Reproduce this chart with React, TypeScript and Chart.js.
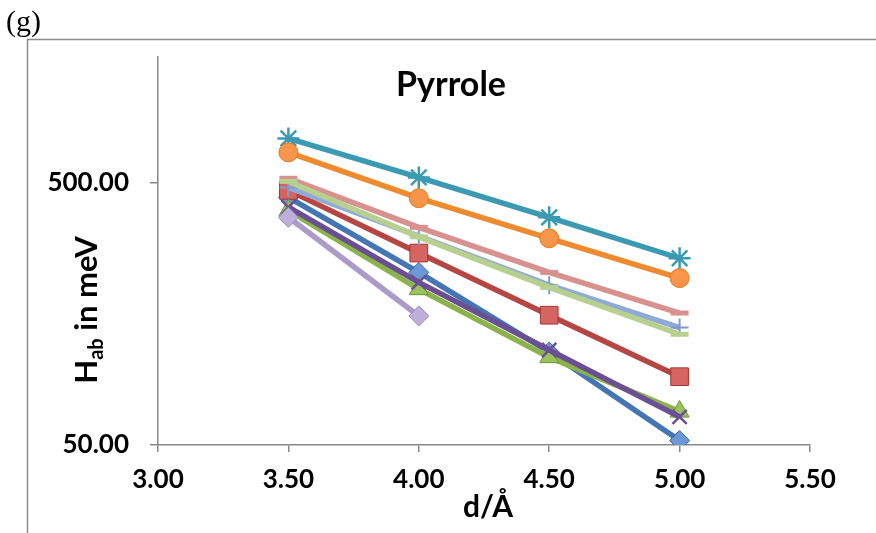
import React, { useEffect, useRef } from "react";
import { Chart, registerables } from "chart.js";

Chart.register(...registerables);

// ---- data (meV vs. distance in Å) ----
const distances = [3.5, 4.0, 4.5, 5.0];
const xTickValues = [3.0, 3.5, 4.0, 4.5, 5.0, 5.5];
const yTickValues = [50, 500];

const blueDiamond = [438, 227, 113, 52];
const redSquare = [466, 269, 156, 91];
const greenTriangle = [391, 196, 108, 67];
const purpleCross = [402, 208, 115, 64];
const tealStar = [735, 522, 368, 257];
const orangeCircle = [650, 435, 306, 216];
const lightBluePlus = [478, 312, 203, 140];
const pinkDash = [518, 337, 227, 159];
const lightGreenDash = [504, 310, 199, 132];
const lavenderDiamond = [368, 155];

const titleText = "Pyrrole";
const xTitle = "d/Å";
const panelLabel = "(g)";

const FONT = "Lato";

function pts(vals: number[]) {
  return vals.map((v, i) => ({ x: distances[i], y: v }));
}

function ds(
  label: string,
  vals: number[],
  line: string,
  style: string,
  radius: number,
  fill: string,
  border: string,
  pbw: number,
  order: number
) {
  return {
    label,
    data: pts(vals),
    borderColor: line,
    backgroundColor: fill,
    borderWidth: 5.5,
    pointStyle: style,
    pointRadius: radius,
    pointHoverRadius: radius,
    pointBackgroundColor: fill,
    pointBorderColor: border,
    pointBorderWidth: pbw,
    showLine: true,
    tension: 0,
    order,
  };
}

const annotPlugin = {
  id: "annot",
  afterDraw(chart: any) {
    const ctx = chart.ctx as CanvasRenderingContext2D;
    ctx.save();
    // outer frame
    ctx.strokeStyle = "#8c8c8c";
    ctx.lineWidth = 1.5;
    ctx.beginPath();
    ctx.moveTo(27.5, 533);
    ctx.lineTo(27.5, 39.5);
    ctx.lineTo(876, 39.5);
    ctx.stroke();

    ctx.fillStyle = "#000";
    ctx.textBaseline = "alphabetic";
    ctx.textAlign = "left";
    ctx.font = '30px "Liberation Serif"';
    ctx.fillText(panelLabel, 6, 31);

    ctx.textAlign = "center";
    ctx.font = `bold 34px ${FONT}`;
    ctx.fillText(titleText, 451, 96);

    ctx.font = `bold 30px ${FONT}`;
    ctx.fillText(xTitle, 488, 517);

    // y title with subscript
    ctx.translate(97, 310);
    ctx.rotate(-Math.PI / 2);
    const big = `bold 31px ${FONT}`;
    const small = `bold 20px ${FONT}`;
    ctx.font = big;
    const wH = ctx.measureText("H").width;
    const wRest = ctx.measureText(" in meV").width;
    ctx.font = small;
    const wSub = ctx.measureText("ab").width;
    const total = wH + wSub + wRest;
    let x0 = -total / 2;
    ctx.textAlign = "left";
    ctx.font = big;
    ctx.fillText("H", x0, 0);
    x0 += wH;
    ctx.font = small;
    ctx.fillText("ab", x0, 6);
    x0 += wSub;
    ctx.font = big;
    ctx.fillText(" in meV", x0, 0);
    ctx.restore();
  },
};

export default function App() {
  const ref = useRef<HTMLCanvasElement | null>(null);
  useEffect(() => {
    if (!ref.current) return;
    const chart = new Chart(ref.current, {
      type: "scatter",
      data: {
        datasets: [
          ds("S1", blueDiamond, "#4475B4", "rectRot", 10, "#6D98D8", "#3A66A0", 1, 10),
          ds("S2", redSquare, "#B54643", "rect", 12.5, "#D66562", "#9E3633", 1, 9),
          ds("S3", greenTriangle, "#8CB24C", "triangle", 11, "#9BC15C", "#6F9438", 1, 8),
          ds("S4", purpleCross, "#6B4F94", "crossRot", 10, "#6B4F94", "#6B4F94", 2.5, 7),
          ds("S5", tealStar, "#3B9AB2", "star", 11, "#3B9AB2", "#3B9AB2", 2.5, 6),
          ds("S6", orangeCircle, "#F08A2E", "circle", 9.5, "#F7964A", "#E07B20", 1, 5),
          ds("S7", lightBluePlus, "#8FAAD9", "cross", 9, "#8FAAD9", "#7F9ACB", 2, 4),
          ds("S8", pinkDash, "#D9918F", "line", 9, "#D9918F", "#D9918F", 5, 3),
          ds("S9", lightGreenDash, "#B7D090", "line", 9, "#B7D090", "#B7D090", 5, 2),
          ds("S10", lavenderDiamond, "#AA9BC8", "rectRot", 10, "#BDB0DA", "#9A8AB8", 1, 1),
        ],
      },
      options: {
        responsive: false,
        animation: false,
        devicePixelRatio: 1,
        layout: { padding: { left: 0, top: 57, right: 66, bottom: 0 } },
        plugins: {
          legend: { display: false },
          tooltip: { enabled: false },
          title: { display: false },
        },
        scales: {
          x: {
            type: "linear",
            min: 3,
            max: 5.5,
            afterFit: (s: any) => {
              s.height = 88;
            },
            afterBuildTicks: (s: any) => {
              s.ticks = xTickValues.map((v) => ({ value: v }));
            },
            ticks: {
              callback: (v: any) => Number(v).toFixed(2),
              color: "#000",
              font: { family: FONT, weight: "bold", size: 26 },
              padding: 12,
              maxRotation: 0,
              autoSkip: false,
            },
            grid: {
              drawOnChartArea: false,
              drawTicks: true,
              tickLength: 7,
              color: "#888",
              lineWidth: 1.5,
            },
            border: { display: true, color: "#888", width: 1.5 },
          },
          y: {
            type: "logarithmic",
            min: 50,
            max: 1500,
            afterFit: (s: any) => {
              s.width = 158;
            },
            afterBuildTicks: (s: any) => {
              s.ticks = yTickValues.map((v) => ({ value: v }));
            },
            ticks: {
              callback: (v: any) => Number(v).toFixed(2),
              color: "#000",
              font: { family: FONT, weight: "bold", size: 26 },
              padding: 21,
              autoSkip: false,
            },
            grid: {
              drawOnChartArea: false,
              drawTicks: true,
              tickLength: 8,
              color: "#888",
              lineWidth: 1.5,
            },
            border: { display: true, color: "#888", width: 1.5 },
          },
        },
      },
      plugins: [annotPlugin],
    } as any);
    return () => chart.destroy();
  }, []);
  return (
    <div
      style={{
        position: "fixed",
        left: 0,
        top: 0,
        width: 876,
        height: 533,
        background: "#fff",
      }}
    >
      <canvas ref={ref} width={876} height={533} style={{ display: "block" }} />
    </div>
  );
}
